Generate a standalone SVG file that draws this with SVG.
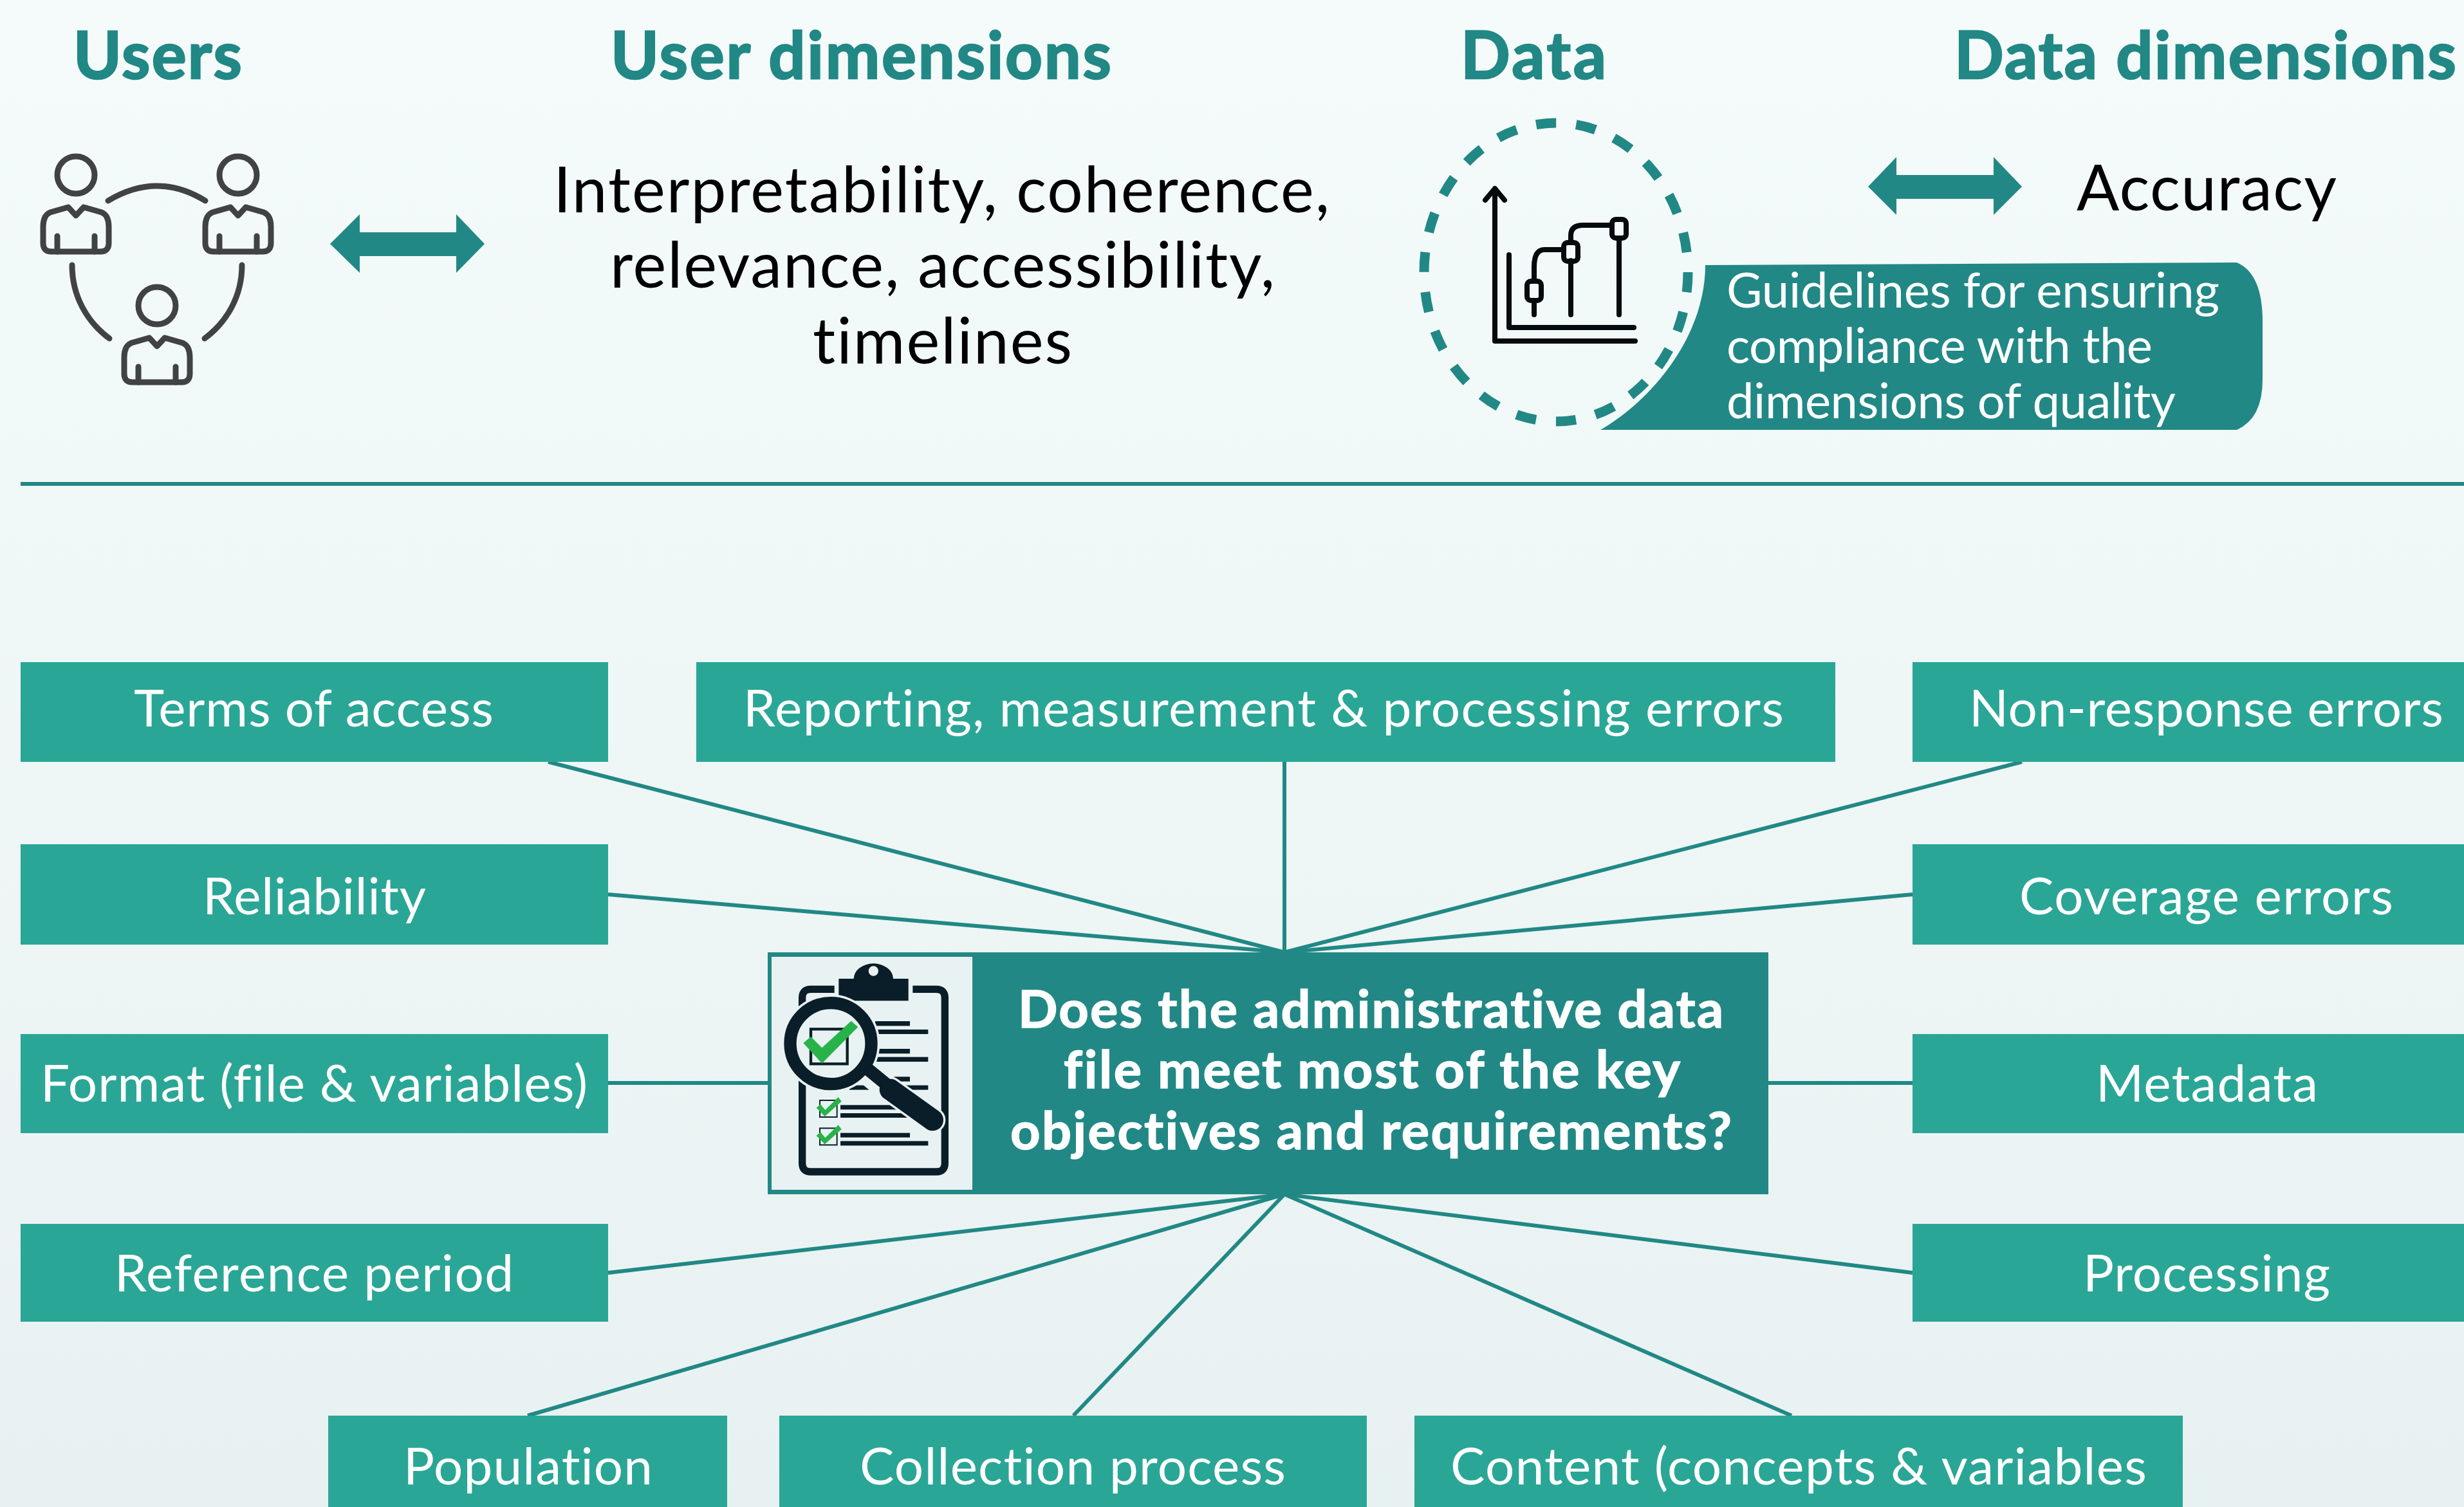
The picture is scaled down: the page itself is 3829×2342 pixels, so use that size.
<svg xmlns="http://www.w3.org/2000/svg" xmlns:xlink="http://www.w3.org/1999/xlink" width="3829" height="2342" viewBox="0 0 3829 2342">
<style>
text{font-family:"Lato","Noto Sans","Liberation Sans",sans-serif;font-variant-ligatures:none}
.h{font-size:101px;font-weight:700;fill:#218885;stroke:#218885;stroke-width:2.5}
.b{font-size:98px;fill:#000}
.g{font-size:76px;fill:#fff}
.t{font-size:80px;fill:#fff}
.q{font-size:81px;font-weight:700;fill:#fff;stroke:#fff;stroke-width:1.5}
.box{fill:#2aa696}
.dark{fill:#218885}
.conn{stroke:#218885;stroke-width:6;fill:none}
.ic{fill:none;stroke:#414244;stroke-width:9;stroke-linecap:round;stroke-linejoin:round}
.ch{fill:none;stroke:#050a0c;stroke-width:8;stroke-linecap:round;stroke-linejoin:round}
.k{fill:#0a1e29}
.v{fill:#27b34a}
</style>
<defs>
<linearGradient id="bg" x1="0" y1="0" x2="0" y2="1"><stop offset="0" stop-color="#f5fbfb"/><stop offset="1" stop-color="#e8f1f1"/></linearGradient>
<g id="person" class="ic">
<ellipse cx="0" cy="0" rx="29" ry="29"/>
<path d="M-12 50L-40 58Q-51 63-51 80V106Q-51 119-38 119H38Q51 119 51 106V80Q51 63 40 58L12 50L0 63Z"/>
<path d="M-29 95V119M29 95V119"/>
</g>
<g id="smallcheck">
<rect x="312" y="750" width="80" height="78" fill="none" stroke="#0a1e29" stroke-width="6"/>
<polygon class="v" points="296,785 315,768 337,795 398,735 413,755 335,825"/>
<rect class="k" x="408" y="772" width="324" height="21"/>
<rect class="k" x="408" y="810" width="409" height="21"/>
</g>
</defs>
<rect width="3829" height="2342" fill="url(#bg)"/>
<g id="connectors" class="conn">
<path d="M852 1184L1996 1480"/>
<path d="M1996 1184V1480"/>
<path d="M3142 1184L1996 1480"/>
<path d="M945 1390L1996 1480"/>
<path d="M2972 1390L1996 1480"/>
<path d="M945 1683H1194"/>
<path d="M2747 1683H2972"/>
<path d="M945 1978L1996 1856"/>
<path d="M2972 1978L1996 1856"/>
<path d="M820 2200L1996 1856"/>
<path d="M1668 2200L1996 1856"/>
<path d="M2784 2200L1996 1856"/>
<path d="M32 752H3829"/>
</g>
<g id="users">
<text class="h" x="114" y="122" textLength="262">Users</text>
<use xlink:href="#person" href="#person" x="118" y="272"/>
<use xlink:href="#person" href="#person" x="370" y="272"/>
<use xlink:href="#person" href="#person" x="244" y="475"/>
<path class="ic" d="M168 312Q244 266 319 312M112 412C112 460 135 500 170 526M376 412C376 460 353 500 318 526"/>
</g>
<g id="arrow-left"><polygon class="dark" points="513,379 559,333 559,361 709,361 709,333 753,379 709,424 709,398 559,398 559,424"/></g>
<g id="user-dimensions">
<text class="h" x="949" y="122" textLength="778">User dimensions</text>
<text class="b" x="860" y="330" textLength="1206">Interpretability, coherence,</text>
<text class="b" x="948" y="447" textLength="1033">relevance, accessibility,</text>
<text class="b" x="1263" y="565" textLength="403">timelines</text>
</g>
<g id="guidelines">
<path class="dark" d="M2650 412L3476 408Q3516 425 3516 500V590Q3516 650 3476 668H2487C2570 620 2650 520 2650 412Z"/>
<text class="g" x="2683" y="478" textLength="766">Guidelines for ensuring</text>
<text class="g" x="2683" y="564" textLength="662">compliance with the</text>
<text class="g" x="2683" y="650" textLength="698">dimensions of quality</text>
</g>
<g id="data">
<text class="h" x="2270" y="122" textLength="226">Data</text>
<ellipse cx="2418" cy="423" rx="205" ry="232" fill="none" stroke="#218885" stroke-width="15" stroke-dasharray="31.2 31.25"/>
<g class="ch">
<path d="M2323 293V530H2541M2308 311L2323 293L2338 311"/>
<path d="M2345 396V509H2539"/>
<path d="M2384 489V467M2384 437V415Q2384 388 2400 388H2429M2441 489V405M2441 377V366Q2441 350 2460 350H2505M2516 489V370"/>
<rect x="2373" y="437" width="22" height="30" rx="6"/>
<rect x="2430" y="377" width="22" height="29" rx="6"/>
<rect x="2505" y="341" width="22" height="29" rx="6"/>
</g>
</g>
<g id="arrow-right"><polygon class="dark" points="2903,290 2947,244 2947,272 3098,272 3098,244 3142,290 3098,334 3098,309 2947,309 2947,334"/></g>
<g id="data-dimensions">
<text class="h" x="3037" y="122" textLength="780">Data dimensions</text>
<text class="b" x="3227" y="327" textLength="404">Accuracy</text>
</g>
<g id="terms"><rect class="box" x="32" y="1029" width="913" height="155"/><text class="t" x="208" y="1129" textLength="559">Terms of access</text></g>
<g id="reporting"><rect class="box" x="1082" y="1029" width="1770" height="155"/><text class="t" x="1155" y="1129" textLength="1617">Reporting, measurement &amp; processing errors</text></g>
<g id="nonresponse"><rect class="box" x="2972" y="1029" width="857" height="155"/><text class="t" x="3060" y="1129" textLength="737">Non-response errors</text></g>
<g id="reliability"><rect class="box" x="32" y="1312" width="913" height="156"/><text class="t" x="315" y="1421" textLength="347">Reliability</text></g>
<g id="coverage"><rect class="box" x="2972" y="1312" width="857" height="156"/><text class="t" x="3138" y="1421" textLength="581">Coverage errors</text></g>
<g id="format"><rect class="box" x="32" y="1607" width="913" height="154"/><text class="t" x="63" y="1712" textLength="850">Format (file &amp; variables)</text></g>
<g id="metadata"><rect class="box" x="2972" y="1607" width="857" height="154"/><text class="t" x="3257" y="1712" textLength="345">Metadata</text></g>
<g id="reference"><rect class="box" x="32" y="1902" width="913" height="152"/><text class="t" x="178" y="2007" textLength="620">Reference period</text></g>
<g id="processing"><rect class="box" x="2972" y="1902" width="857" height="152"/><text class="t" x="3237" y="2007" textLength="384">Processing</text></g>
<g id="population"><rect class="box" x="510" y="2200" width="620" height="142"/><text class="t" x="627" y="2307" textLength="387">Population</text></g>
<g id="collection"><rect class="box" x="1211" y="2200" width="913" height="142"/><text class="t" x="1336" y="2307" textLength="662">Collection process</text></g>
<g id="content"><rect class="box" x="2198" y="2200" width="1194" height="142"/><text class="t" x="2254" y="2307" textLength="1082">Content (concepts &amp; variables</text></g>
<g id="question">
<rect class="dark" x="1193" y="1480" width="1555" height="376"/>
<rect x="1199" y="1487" width="312" height="362" fill="#e9f2f2"/>
<g transform="translate(1170 1460) scale(.33333)">
<path d="M380 232H270Q230 232 230 272V1043Q230 1083 270 1083H855Q895 1083 895 1043V272Q895 232 855 232H745" fill="none" stroke="#0a1e29" stroke-width="34"/>
<path class="k" fill-rule="evenodd" d="M400 183H470A92 71 0 0 1 654 183H725V286H400ZM585 147A23 23 0 1 0 539 147A23 23 0 1 0 585 147Z"/>
<rect class="k" x="570" y="381" width="162" height="22"/>
<rect class="k" x="570" y="420" width="247" height="21"/>
<rect class="k" x="570" y="510" width="162" height="22"/>
<rect class="k" x="570" y="548" width="247" height="22"/>
<rect class="k" x="450" y="640" width="282" height="22"/>
<rect class="k" x="450" y="680" width="367" height="21"/>
<use xlink:href="#smallcheck" href="#smallcheck"/>
<use xlink:href="#smallcheck" href="#smallcheck" y="130"/>
<circle cx="363" cy="485" r="229" fill="#e9f2f2"/>
<path d="M530 615L655 715M640 700L838 842" fill="none" stroke="#e9f2f2" stroke-width="120" stroke-linecap="round"/>
<path d="M530 600L670 715" fill="none" stroke="#0a1e29" stroke-width="60"/>
<path d="M640 700L838 842" fill="none" stroke="#0a1e29" stroke-width="100" stroke-linecap="round"/>
<circle cx="363" cy="485" r="189" fill="#e9f2f2" stroke="#0a1e29" stroke-width="58"/>
<rect x="270" y="418" width="170" height="162" fill="none" stroke="#0a1e29" stroke-width="13"/>
<polygon class="v" points="235,483 270,453 322,505 458,380 490,408 322,578"/>
</g>
<text class="q" x="1582" y="1597" textLength="1096">Does the administrative data</text>
<text class="q" x="1653" y="1691" textLength="958">file meet most of the key</text>
<text class="q" x="1570" y="1786" textLength="1121">objectives and requirements?</text>
</g>
</svg>
